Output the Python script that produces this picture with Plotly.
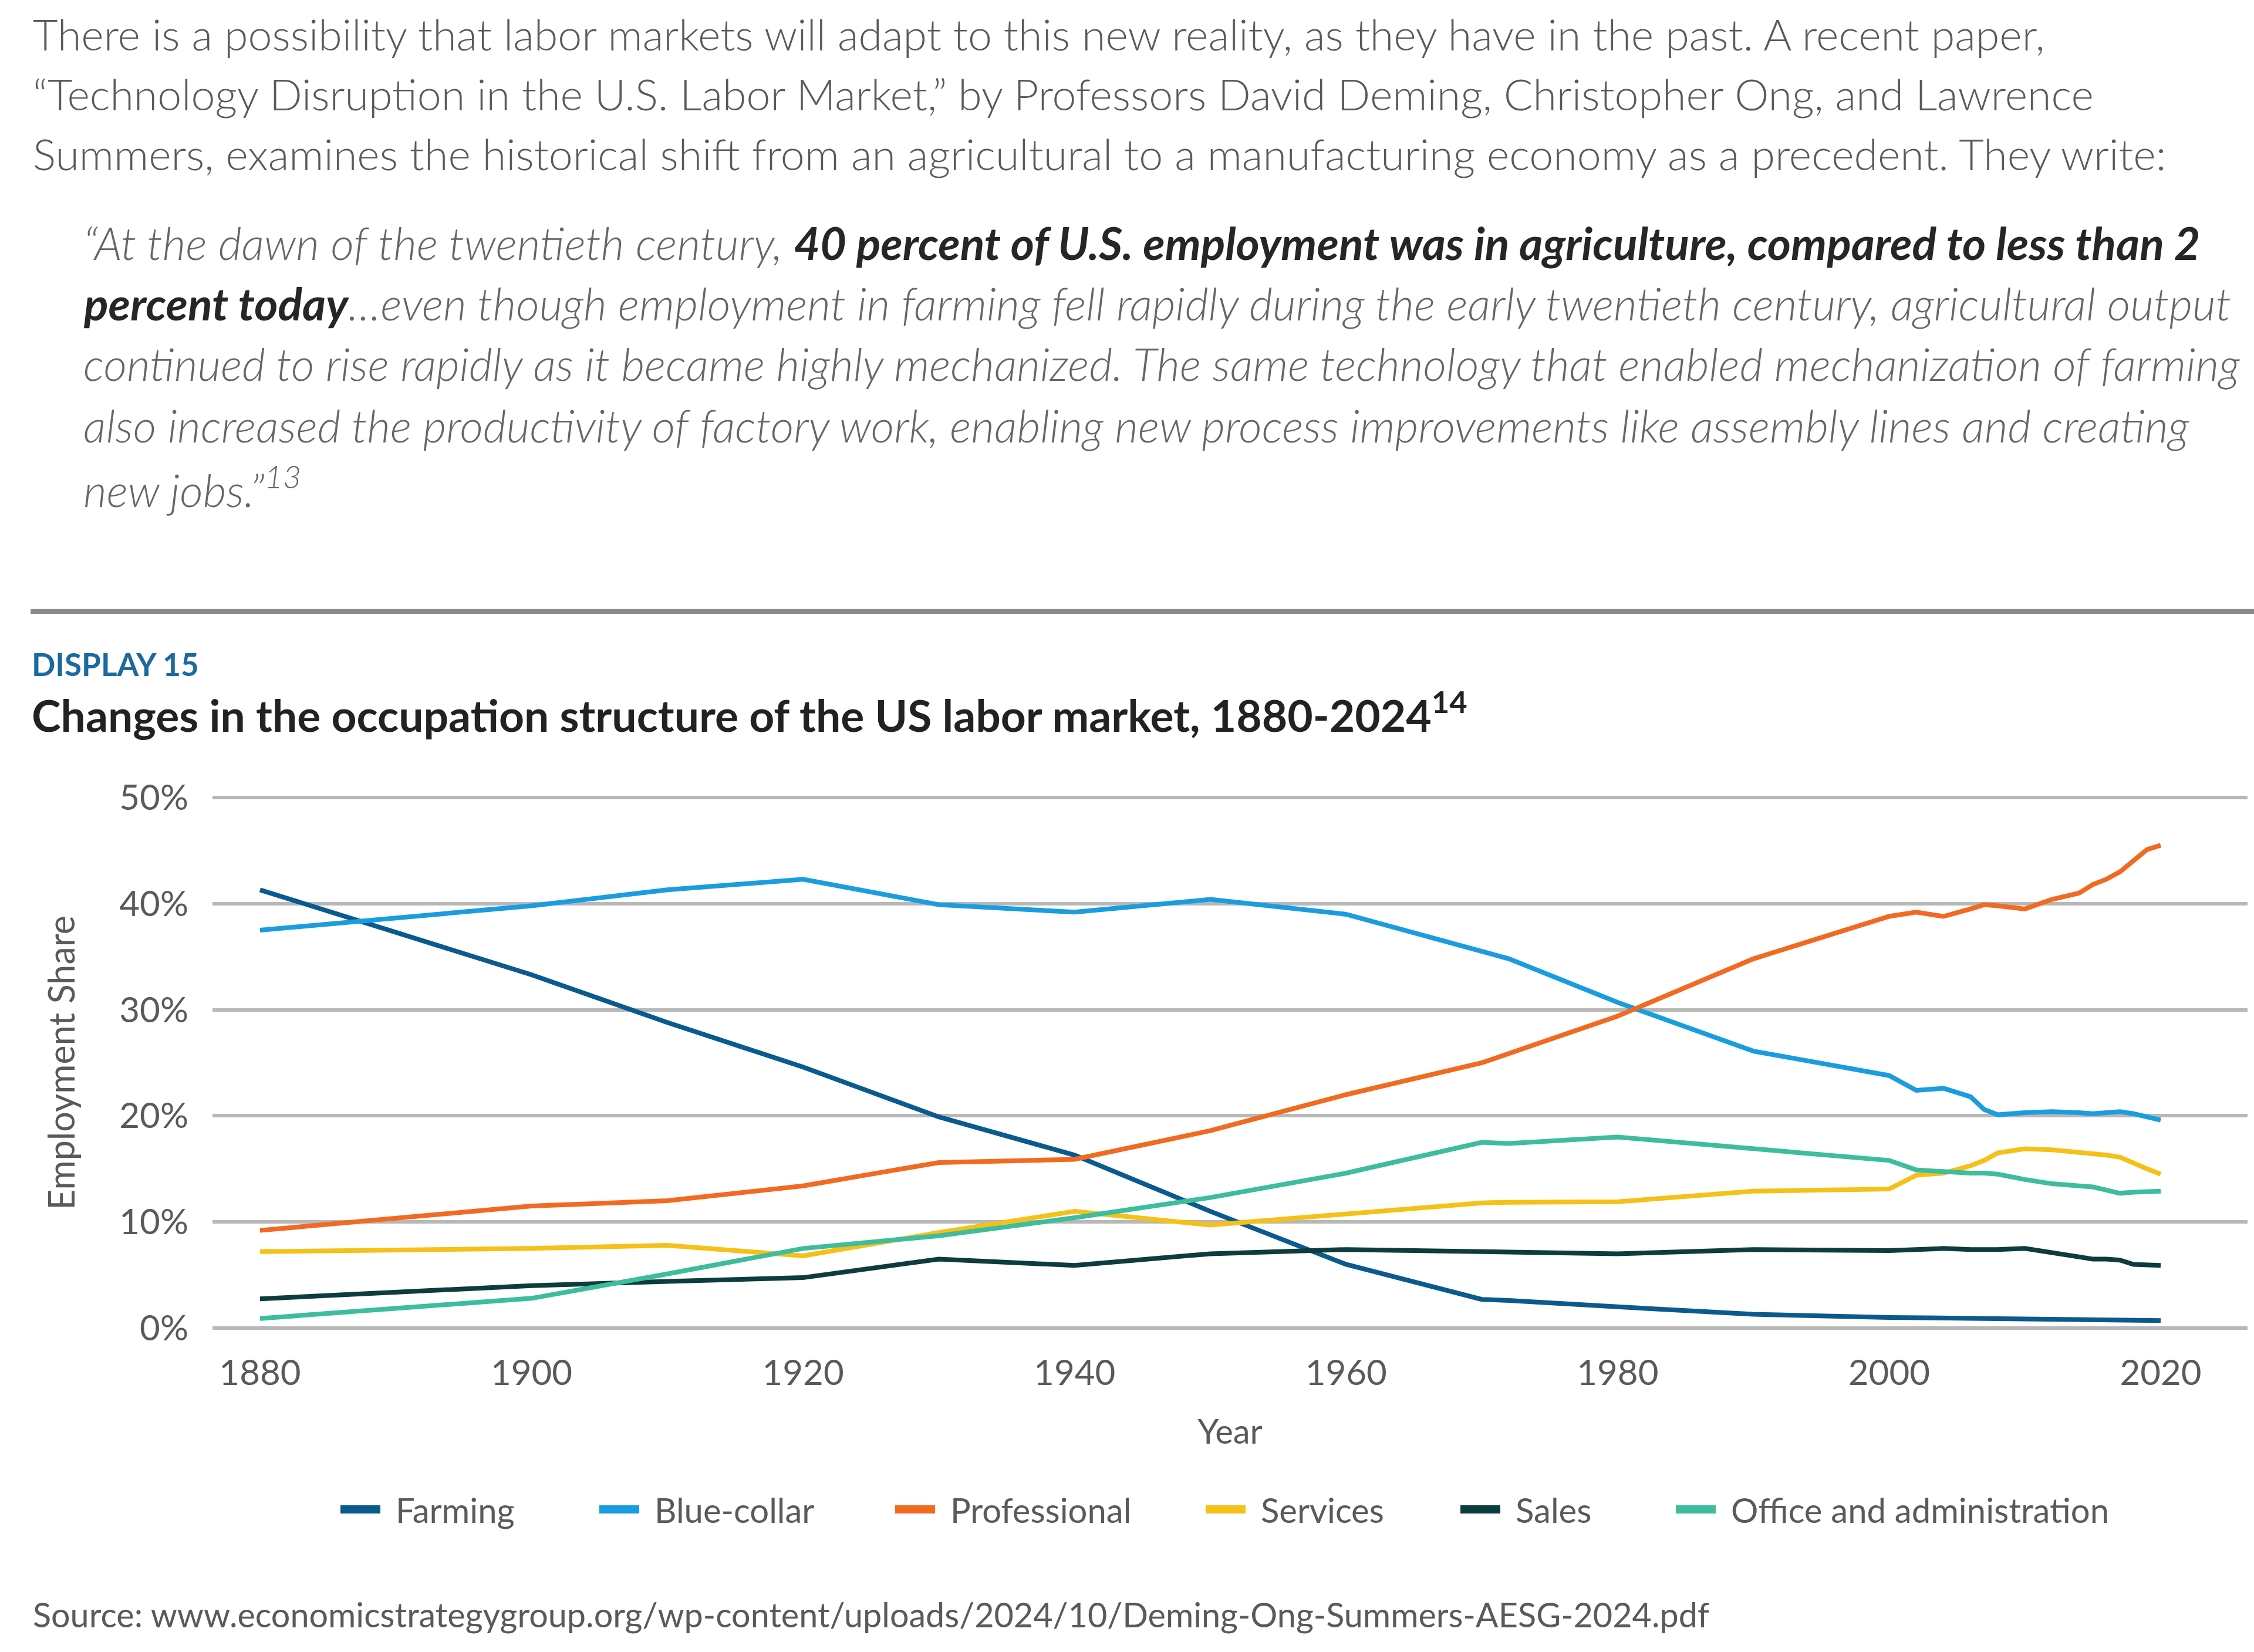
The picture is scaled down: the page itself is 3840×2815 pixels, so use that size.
import plotly.graph_objects as go

# ---------------- data ----------------
years = [1880, 1900, 1910, 1920, 1930, 1940, 1950, 1960, 1970, 1972, 1980, 1990, 2000,
         2002, 2004, 2006, 2007, 2008, 2010, 2012, 2014, 2015, 2016, 2017, 2018, 2019, 2020]

farming = [41.3, 33.3, 28.8, 24.6, 19.9, 16.3, 11.0, 6.0, 2.7, 2.6, 2.0, 1.3, 1.0,
           1.0, 0.95, 0.9, 0.9, 0.88, 0.85, 0.8, 0.8, 0.78, 0.76, 0.75, 0.74, 0.72, 0.7]
blue_collar = [37.5, 39.8, 41.3, 42.3, 39.9, 39.2, 40.4, 39.0, 35.5, 34.8, 30.7, 26.1, 23.8,
               22.4, 22.6, 21.8, 20.6, 20.1, 20.3, 20.4, 20.3, 20.2, 20.3, 20.4, 20.2, 19.9, 19.6]
professional = [9.2, 11.5, 12.0, 13.4, 15.6, 15.9, 18.6, 22.0, 25.0, 25.9, 29.4, 34.8, 38.8,
                39.2, 38.8, 39.5, 39.9, 39.8, 39.5, 40.4, 41.0, 41.8, 42.3, 43.0, 44.0, 45.1, 45.5]
services = [7.2, 7.5, 7.8, 6.8, 9.0, 11.0, 9.7, 10.8, 11.8, 11.85, 11.9, 12.9, 13.1,
            14.4, 14.6, 15.3, 15.8, 16.5, 16.9, 16.8, 16.6, 16.5, 16.3, 16.1, 15.5, 15.0, 14.5]
sales = [2.75, 4.0, 4.4, 4.75, 6.5, 5.9, 7.0, 7.4, 7.2, 7.15, 7.0, 7.4, 7.3,
         7.4, 7.5, 7.4, 7.35, 7.4, 7.5, 7.1, 6.7, 6.5, 6.5, 6.4, 6.0, 5.95, 5.9]
office_admin = [0.9, 2.8, 5.1, 7.5, 8.7, 10.4, 12.3, 14.6, 17.5, 17.4, 18.0, 16.9, 15.8,
                14.9, 14.7, 14.6, 14.6, 14.5, 14.0, 13.6, 13.4, 13.3, 13.0, 12.7, 12.8, 12.8, 12.9]

series_names = ["Farming", "Blue-collar", "Professional", "Services", "Sales", "Office and administration"]
series_values = [farming, blue_collar, professional, services, sales, office_admin]
series_colors = ["#0b5a8e", "#1a9ddf", "#f26a21", "#f5c118", "#0c3c3d", "#3dbd9c"]

y_ticks = [0, 10, 20, 30, 40, 50]
y_tick_labels = ["0%", "10%", "20%", "30%", "40%", "50%"]
x_ticks = [1880, 1900, 1920, 1940, 1960, 1980, 2000, 2020]

# ---------------- layout geometry (pixels) ----------------
W, H = 3840, 2815
ML, MR, MT, MB = 362, 11, 1350, 543
PW = W - ML - MR
PH = H - MT - MB


def px(x):
    return (x - ML) / PW


def py(y):
    return (H - MB - y) / PH


BODY_FONT = "Lato"
GRAY = "#5a5a5a"

fig = go.Figure()
for name, vals, col in zip(series_names, series_values, series_colors):
    fig.add_trace(go.Scatter(x=years, y=vals, mode="lines", name=name,
                             line=dict(color=col, width=8), showlegend=False))

annotations = []
shapes = []

# intro paragraph
para = [
    "There is a possibility that labor markets will adapt to this new reality, as they have in the past. A recent paper,",
    "“Technology Disruption in the U.S. Labor Market,” by Professors David Deming, Christopher Ong, and Lawrence",
    "Summers, examines the historical shift from an agricultural to a manufacturing economy as a precedent. They write:",
]
para_y = [57, 160, 261]
for t, yy in zip(para, para_y):
    annotations.append(dict(text=t, x=px(54), y=py(yy), xref="paper", yref="paper",
                            xanchor="left", yanchor="middle", showarrow=False,
                            font=dict(family=BODY_FONT, size=73.5, color=GRAY, weight=300)))

B = '<span style="color:#262626"><b>'
E = '</b></span>'
quote = [
    "<i>“At the dawn of the twentieth century, " + B + "40 percent of U.S. employment was in agriculture, compared to less than 2" + E + "</i>",
    "<i>" + B + "percent today" + E + "…even though employment in farming fell rapidly during the early twentieth century, agricultural output</i>",
    "<i>continued to rise rapidly as it became highly mechanized. The same technology that enabled mechanization of farming</i>",
    "<i>also increased the productivity of factory work, enabling new process improvements like assembly lines and creating</i>",
    "<i>new jobs.”<sup>13</sup></i>",
]
quote_y = [413, 516, 619, 724, 829]
for t, yy in zip(quote, quote_y):
    annotations.append(dict(text=t, x=px(140), y=py(yy), xref="paper", yref="paper",
                            xanchor="left", yanchor="middle", showarrow=False,
                            font=dict(family=BODY_FONT, size=77, color="#666666", weight=300)))

# rule
shapes.append(dict(type="line", xref="paper", yref="paper", x0=px(52), x1=px(3840), y0=py(1042), y1=py(1042),
                   line=dict(color="#8a8a8a", width=8)))

annotations.append(dict(text="<b>DISPLAY 15</b>", x=px(52), y=py(1131), xref="paper", yref="paper",
                        xanchor="left", yanchor="middle", showarrow=False,
                        font=dict(family=BODY_FONT, size=53, color="#1c69a0")))
annotations.append(dict(text="<b>Changes in the occupation structure of the US labor market, 1880-2024<sup>14</sup></b>",
                        x=px(52), y=py(1213), xref="paper", yref="paper",
                        xanchor="left", yanchor="middle", showarrow=False,
                        font=dict(family=BODY_FONT, size=75, color="#222222")))

# legend (manual)
leg_x = [578, 1019, 1523, 2052, 2486, 2853]
leg_y = 2572
for name, col, lx in zip(series_names, series_colors, leg_x):
    shapes.append(dict(type="line", xref="paper", yref="paper", x0=px(lx + 2), x1=px(lx + 70),
                       y0=py(leg_y), y1=py(leg_y), line=dict(color=col, width=14)))
    annotations.append(dict(text=name, x=px(lx + 94), y=py(leg_y), xref="paper", yref="paper",
                            xanchor="left", yanchor="middle", showarrow=False,
                            font=dict(family=BODY_FONT, size=58, color=GRAY)))

annotations.append(dict(text="Source: www.economicstrategygroup.org/wp-content/uploads/2024/10/Deming-Ong-Summers-AESG-2024.pdf",
                        x=px(54), y=py(2750), xref="paper", yref="paper",
                        xanchor="left", yanchor="middle", showarrow=False,
                        font=dict(family=BODY_FONT, size=57.5, color=GRAY)))

fig.update_layout(
    width=W, height=H,
    margin=dict(l=ML, r=MR, t=MT, b=MB, pad=0),
    paper_bgcolor="white", plot_bgcolor="white",
    font=dict(family=BODY_FONT, color=GRAY),
    annotations=annotations, shapes=shapes,
    showlegend=False,
    xaxis=dict(range=[1876.5, 2026.4], tickvals=x_ticks, ticktext=[str(v) for v in x_ticks],
               showgrid=False, zeroline=False, showline=False,
               ticks="outside", ticklen=15, tickcolor="rgba(0,0,0,0)",
               tickfont=dict(size=60, color=GRAY),
               title=dict(text="Year", font=dict(size=58, color=GRAY), standoff=47)),
    yaxis=dict(range=[-0.5, 50.5], tickvals=y_ticks, ticktext=y_tick_labels,
               showgrid=True, gridcolor="#b8b8b8", gridwidth=6, zeroline=False, showline=False,
               ticks="outside", ticklen=28, tickcolor="rgba(0,0,0,0)",
               tickfont=dict(size=60, color=GRAY),
               title=dict(text="Employment Share", font=dict(size=61, color=GRAY), standoff=55)),
)

fig.write_html("out.html")
